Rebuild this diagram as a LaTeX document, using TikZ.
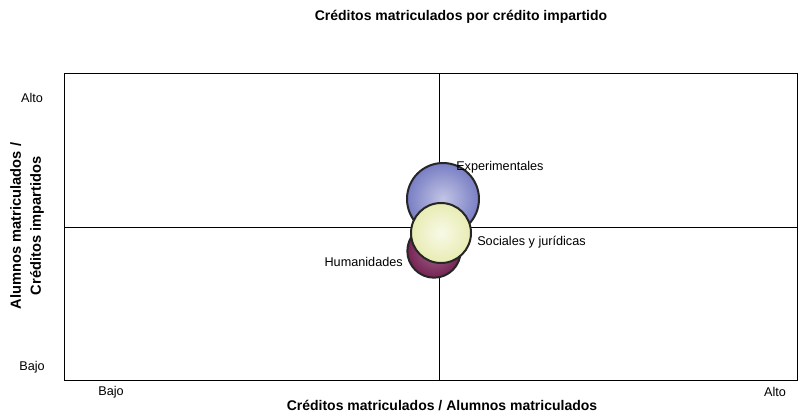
\documentclass[tikz,border=0pt]{standalone}
\usepackage{fontspec}
\setmainfont{Liberation Sans}
\usepackage{xcolor}
\usetikzlibrary{calc}

\definecolor{expblue}{RGB}{120,126,196}
\definecolor{socyellow}{RGB}{232,236,178}
\definecolor{humpurple}{RGB}{118,34,84}

\tikzset{
	bubble/.style={draw=black!85, line width=1.5pt, shading=radial},
	lab/.style={font=\fontsize{9.5}{11}\selectfont, inner sep=0pt},
	axtitle/.style={font=\fontsize{10.5}{15}\selectfont\bfseries, inner sep=0pt, align=center}
}

\begin{document}
\begin{tikzpicture}[x=0.75pt, y=-0.75pt]
		\useasboundingbox (0,0) rectangle (807,412);
		
		\coordinate (box top left) at (64,73);
		\coordinate (box bottom right) at (797,380);
		\coordinate (mid x) at (439,0);
		\coordinate (mid y) at (0,227);
		
		\draw [line width=0.6pt] (box top left) rectangle (box bottom right);
		\draw [line width=0.6pt] (box top left -| mid x) -- (box bottom right -| mid x);
		\draw [line width=0.6pt] (box top left |- mid y) -- (box bottom right |- mid y);
		
		%bubbles
		\shadedraw [bubble, inner color=expblue!45, outer color=expblue] (443,199) circle [radius=27pt];
		\shadedraw [bubble, inner color=humpurple!70, outer color=humpurple] (434,251) circle [radius=20pt];
		\shadedraw [bubble, inner color=socyellow!30, outer color=socyellow] (441,233) circle [radius=22.5pt];
		
		%labels
		\node [lab, anchor=west] (exp label) at (456,167) {Experimentales};
		\node [lab, anchor=west] (soc label) at (477,242) {Sociales y jurídicas};
		\node [lab, anchor=east] (hum label) at (403,262) {Humanidades};
		
		%axes
		\node [axtitle] (title) at (461,17) {Créditos matriculados por crédito impartido};
		\node [axtitle] (x title) at (442,405) {Créditos matriculados / Alumnos matriculados};
		\node [axtitle, font=\fontsize{11}{15}\selectfont\bfseries, rotate=90] (y title) at (27,226) {Alumnos matriculados /\\Créditos impartidos};
		\node [lab] (y high) at (32,98) {Alto};
		\node [lab] (y low) at (32,367) {Bajo};
		\node [lab] (x low) at (111,392) {Bajo};
		\node [lab] (x high) at (775,392) {Alto};
	\end{tikzpicture}
\end{document}
